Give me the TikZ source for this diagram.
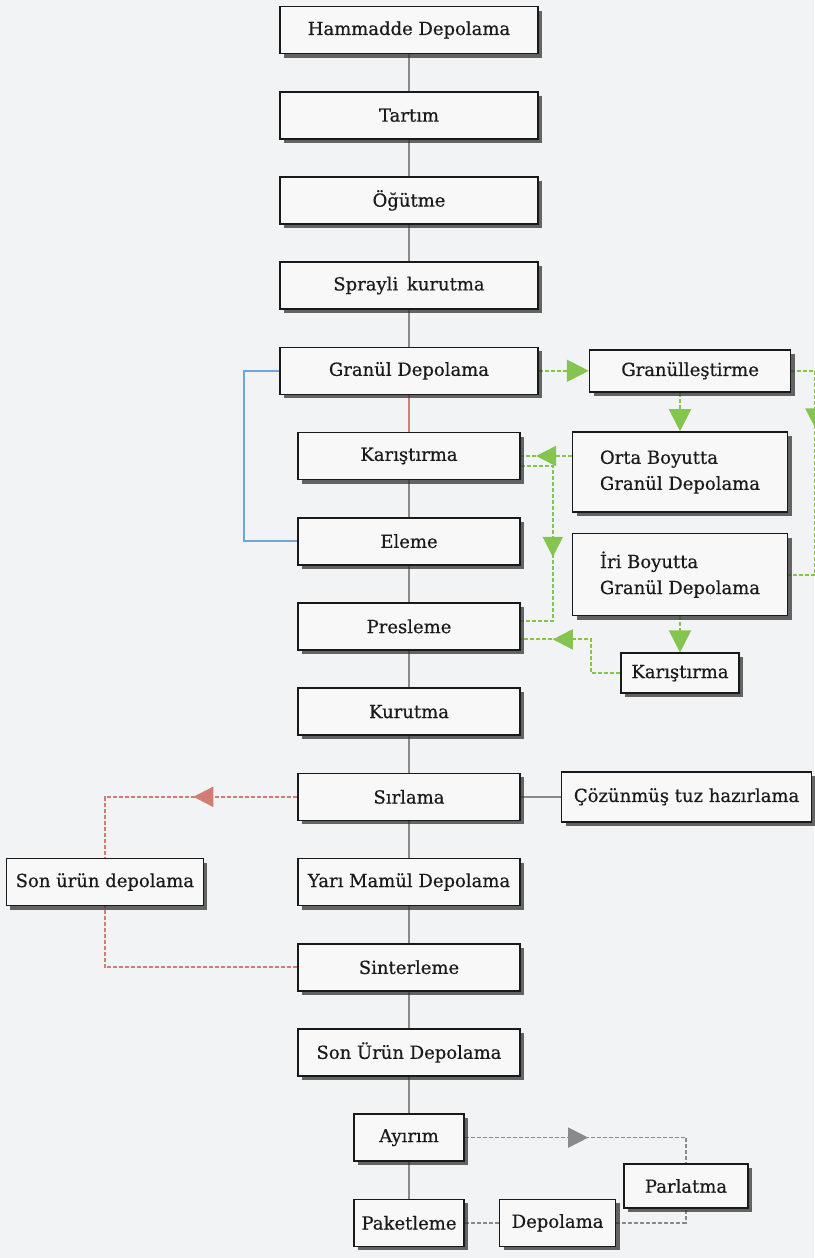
\documentclass[tikz,border=0pt]{standalone}
\usepackage{fontspec}
\setmainfont{DejaVu Serif}
\newfontfamily\stagefont{DejaVu Serif}[FakeBold=0.5]
\usetikzlibrary{arrows.meta, positioning, shadows, decorations.markings, backgrounds}
\definecolor{paper}{HTML}{F2F3F4}
\definecolor{boxfill}{HTML}{F8F8F8}
\definecolor{linegray}{HTML}{8A8A8A}
\definecolor{flowgreen}{HTML}{86C450}
\definecolor{flowred}{HTML}{D27C76}
\definecolor{flowblue}{HTML}{6EA6DA}
\definecolor{darktext}{HTML}{1A1A1A}

\begin{document}
\begin{tikzpicture}[
    x=1pt, y=-1pt,
    node distance=36.6pt,
    stage/.style={rectangle, draw=black!90, line width=1.6pt, fill=boxfill,
                  minimum height=47pt, inner sep=2pt, align=center,
                  font=\stagefont\fontsize{18}{26}\selectfont, text=darktext,
                  drop shadow={shadow xshift=4pt, shadow yshift=-4pt,
                               fill=black!80, opacity=0.75}},
    link/.style={draw=linegray, line width=1.6pt},
    flow/.style={draw=#1, line width=2pt, dash pattern=on 4pt off 2pt},
    endtip/.style={-{Triangle[length=22pt, width=22pt]}},
    midtip/.style={postaction={decorate, decoration={markings,
                   mark=at position #1 with {\arrow{Triangle[length=20pt, width=20pt]}}}}}
]
\useasboundingbox (0,0) rectangle (814,1258);

% main line
\node[stage, minimum width=258pt] (ham) at (409,30) {Hammadde Depolama};
\node[stage, minimum width=258pt, below=of ham] (tar) {Tartım};
\node[stage, minimum width=258pt, below=of tar] (ogu) {Öğütme};
\node[stage, minimum width=258pt, below=of ogu] (spr) {Sprayli\, kurutma};
\node[stage, minimum width=258pt, below=of spr] (gdep) {Granül Depolama};
\node[stage, minimum width=222pt, below=of gdep] (kar) {Karıştırma};
\node[stage, minimum width=222pt, below=of kar] (ele) {Eleme};
\node[stage, minimum width=222pt, below=of ele] (pres) {Presleme};
\node[stage, minimum width=222pt, below=of pres] (kur) {Kurutma};
\node[stage, minimum width=222pt, below=of kur] (sir) {Sırlama};
\node[stage, minimum width=222pt, below=of sir] (yari) {Yarı Mamül Depolama};
\node[stage, minimum width=222pt, below=of yari] (sint) {Sinterleme};
\node[stage, minimum width=222pt, below=of sint] (sonu) {Son Ürün Depolama};
\node[stage, minimum width=110pt, below=of sonu] (ayi) {Ayırım};
\node[stage, minimum width=110pt, below=of ayi] (paket) {Paketleme};

% granule branch
\node[stage, minimum width=201pt, minimum height=42pt, right=50pt of gdep] (gran) {Granülleştirme};
\node[stage, minimum width=215pt, minimum height=80pt, align=left] (orta) at (680,472) {Orta Boyutta\\Granül Depolama};
\node[stage, minimum width=215pt, minimum height=82pt, align=left, below=20pt of orta] (iri) {İri Boyutta\\Granül Depolama};
\node[stage, minimum width=118pt, minimum height=40pt, below=36pt of iri] (kar2) {Karıştırma};

% side boxes
\node[stage, minimum width=250pt, minimum height=50pt, right=40pt of sir] (coz) {Çözünmüş tuz hazırlama};
\node[stage, minimum width=197pt, left=93pt of yari] (sonr) {Son ürün depolama};
\node[stage, minimum width=124pt, minimum height=44pt] (par) at (686,1186) {Parlatma};
\node[stage, minimum width=116pt, right=34pt of paket] (dep) {Depolama};

\begin{scope}[on background layer]
\fill[paper] (0,0) rectangle (814,1258);

\draw[link] (ham) -- (tar);
\draw[link] (tar) -- (ogu);
\draw[link] (ogu) -- (spr);
\draw[link] (spr) -- (gdep);
\draw[link, draw=flowred] (gdep) -- (kar);
\draw[link] (kar) -- (ele);
\draw[link] (ele) -- (pres);
\draw[link] (pres) -- (kur);
\draw[link] (kur) -- (sir);
\draw[link] (sir) -- (yari);
\draw[link] (yari) -- (sint);
\draw[link] (sint) -- (sonu);
\draw[link] (sonu) -- (ayi);
\draw[link] (ayi) -- (paket);
\draw[link] (sir) -- (coz);

% bypass of the mixing step
\draw[draw=flowblue, line width=2pt] (gdep.west) -- ++(-35,0) |- (ele.west);

% green granule loop
\draw[flow=flowgreen, endtip] (gdep.east) -- (gran.west);
\draw[flow=flowgreen, endtip] (orta.north |- gran.south) -- (orta.north);
\draw[flow=flowgreen, midtip=0.32] (gran.east) -- ++(24,0) |- (iri.east);
\draw[flow=flowgreen, midtip=0.7] (kar.east -| orta.west) -- (kar.east);
\draw[flow=flowgreen, midtip=0.56] ([yshift=-10pt]kar.east) -- ++(32,0) |- ([yshift=5pt]pres.east);
\draw[flow=flowgreen, endtip] (kar2.north |- iri.south) -- (kar2.north);
\draw[flow=flowgreen, midtip=0.76] (kar2.west) -- ++(-29,0) |- ([yshift=-13pt]pres.east);

% red product storage
\draw[flow=flowred, line width=2.4pt, midtip=0.41] (sir.west) -| (sonr.north);
\draw[flow=flowred, line width=2.4pt] (sint.west) -| (sonr.south);

% gray polishing loop
\draw[flow=linegray, line width=1.6pt, midtip=0.5] (ayi.east) -| (par.north);
\draw[flow=linegray, line width=1.6pt] (paket.east) -- (dep.west);
\draw[flow=linegray, line width=1.6pt] (dep.east) -| (par.south);
\end{scope}
\end{tikzpicture}
\end{document}
